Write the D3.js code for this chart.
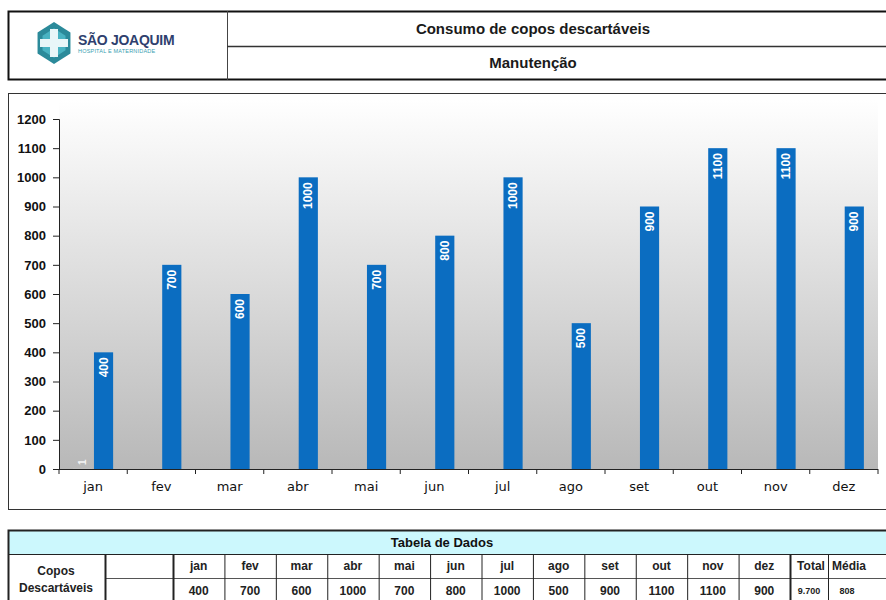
<!DOCTYPE html>
<html lang="pt">
<head>
<meta charset="utf-8">
<script src="https://d3js.org/d3.v7.min.js"></script>
<style>
  body { margin: 0; background: #fff; }
  svg { display: block; font-family: "Liberation Sans", Arial, sans-serif; }
</style>
</head>
<body>
<script>
// dados do grafico
var meses = ["jan", "fev", "mar", "abr", "mai", "jun", "jul", "ago", "set", "out", "nov", "dez"];
var consumo = [400, 700, 600, 1000, 700, 800, 1000, 500, 900, 1100, 1100, 900];
var outros = [1, null, null, null, null, null, null, null, null, null, null, null];
var yTicks = [0, 100, 200, 300, 400, 500, 600, 700, 800, 900, 1000, 1100, 1200];

var W = 886, H = 600;
var svg = d3.select("body").append("svg").attr("width", W).attr("height", H);

// ---- cabecalho ----
var head = svg.append("g");
head.append("rect").attr("x", 8.5).attr("y", 11.5).attr("width", 890).attr("height", 68)
    .attr("fill", "#fff").attr("stroke", "#111").attr("stroke-width", 2);
head.append("line").attr("x1", 227.5).attr("x2", 227.5).attr("y1", 11).attr("y2", 80)
    .attr("stroke", "#444").attr("stroke-width", 1);
head.append("line").attr("x1", 227).attr("x2", 890).attr("y1", 46.5).attr("y2", 46.5)
    .attr("stroke", "#333").attr("stroke-width", 1.5);
head.append("text").attr("x", 533).attr("y", 34).attr("text-anchor", "middle")
    .attr("font-size", 15).attr("font-weight", "bold").attr("fill", "#1a1a1a")
    .text("Consumo de copos descartáveis");
head.append("text").attr("x", 533).attr("y", 68).attr("text-anchor", "middle")
    .attr("font-size", 15).attr("font-weight", "bold").attr("fill", "#1a1a1a")
    .text("Manutenção");

// logo (simplificado)
var logo = head.append("g").attr("transform", "translate(54,43)");
var hex = d3.range(6).map(function(i) {
  var a = Math.PI / 3 * i + Math.PI / 6;
  return [19 * Math.cos(a), 21 * Math.sin(a)];
});
logo.append("polygon").attr("points", hex.join(" ")).attr("fill", "#2b8a9a");
logo.append("polygon").attr("points", hex.map(function(p) { return [p[0] * 0.7, p[1] * 0.7]; }).join(" "))
    .attr("fill", "#49b3c2");
logo.append("path").attr("d", "M-4,-14 h8 v10 h10 v8 h-10 v10 h-8 v-10 h-10 v-8 h10 z")
    .attr("fill", "#e8f6f8");
head.append("text").attr("x", 78).attr("y", 45).attr("font-size", 14).attr("font-weight", "bold")
    .attr("fill", "#2f3f6e").attr("letter-spacing", -0.3).text("SÃO JOAQUIM");
head.append("text").attr("x", 78).attr("y", 53).attr("font-size", 5.5)
    .attr("fill", "#3aa0b0").attr("letter-spacing", 0.2).text("HOSPITAL E MATERNIDADE");

// ---- area do grafico ----
svg.append("rect").attr("x", 8.5).attr("y", 93.5).attr("width", 890).attr("height", 416)
    .attr("fill", "#fff").attr("stroke", "#333").attr("stroke-width", 1);

var margin = { left: 59, right: 878, top: 100, bottom: 469 };
var x = d3.scaleBand().domain(meses).range([margin.left, margin.right]).paddingInner(0).paddingOuter(0);
var y = d3.scaleLinear().domain([0, 1200]).range([margin.bottom, 119]);
var x1 = d3.scaleBand().domain(["outros", "consumo"]).range([0, 40]).paddingInner(0.08);

var defs = svg.append("defs");
var grad = defs.append("linearGradient").attr("id", "fundo").attr("x1", 0).attr("x2", 0).attr("y1", 0).attr("y2", 1);
grad.append("stop").attr("offset", "0%").attr("stop-color", "#ffffff");
grad.append("stop").attr("offset", "100%").attr("stop-color", "#b8b8b8");

svg.append("rect").attr("x", margin.left).attr("y", margin.top)
    .attr("width", margin.right - margin.left).attr("height", margin.bottom - margin.top)
    .attr("fill", "url(#fundo)");

// eixo y
var yAxis = svg.append("g").attr("transform", "translate(" + margin.left + ",0)")
    .call(d3.axisLeft(y).tickValues(yTicks).tickFormat(d3.format("d")).tickSize(6).tickPadding(7));
yAxis.select(".domain").attr("stroke", "#222");
yAxis.selectAll(".tick line").attr("stroke", "#222");
yAxis.selectAll("text").attr("font-size", 13).attr("font-weight", "bold").attr("fill", "#111")
    .attr("font-family", "'Liberation Sans', Arial, sans-serif");

// eixo x
var xAxis = svg.append("g").attr("transform", "translate(0," + margin.bottom + ")")
    .call(d3.axisBottom(x).tickSize(0).tickPadding(13));
xAxis.select(".domain").attr("stroke", "#222").attr("d", "M" + margin.left + ",0.5H" + margin.right);
xAxis.selectAll("text").attr("font-size", 13).attr("fill", "#111")
    .attr("font-family", "'DejaVu Sans', Verdana, sans-serif");
svg.append("g").selectAll("line")
    .data(meses.concat(["fim"]))
    .enter().append("line")
    .attr("x1", function(d, i) { return margin.left + i * x.step(); })
    .attr("x2", function(d, i) { return margin.left + i * x.step(); })
    .attr("y1", margin.bottom).attr("y2", margin.bottom + 5)
    .attr("stroke", "#222");

// barras
var grupos = svg.append("g").selectAll("g")
    .data(meses).enter().append("g")
    .attr("transform", function(d) { return "translate(" + (x(d) + x.bandwidth() / 2 - 20) + ",0)"; });

grupos.append("rect")
    .attr("x", x1("consumo"))
    .attr("width", x1.bandwidth())
    .attr("y", function(d, i) { return y(consumo[i]); })
    .attr("height", function(d, i) { return y(0) - y(consumo[i]); })
    .attr("fill", "#0b6dc1");

grupos.append("text")
    .attr("transform", function(d, i) {
      return "translate(" + (x1("consumo") + x1.bandwidth() / 2 + 4) + "," + (y(consumo[i]) + 5) + ") rotate(-90)";
    })
    .attr("text-anchor", "end")
    .attr("font-size", 12).attr("font-weight", "bold").attr("fill", "#fff")
    .text(function(d, i) { return consumo[i]; });

grupos.filter(function(d, i) { return outros[i] != null; })
    .append("rect")
    .attr("x", x1("outros"))
    .attr("width", x1.bandwidth())
    .attr("y", function(d) { return y(outros[meses.indexOf(d)]); })
    .attr("height", function(d) { return y(0) - y(outros[meses.indexOf(d)]); })
    .attr("fill", "#d0d0d0");
grupos.filter(function(d, i) { return outros[i] != null; })
    .append("text")
    .attr("transform", "translate(" + (x1("outros") + x1.bandwidth() / 2 + 3) + "," + (y(0) - 4) + ") rotate(-90)")
    .attr("text-anchor", "start")
    .attr("font-size", 10).attr("font-weight", "bold").attr("fill", "#f4f4f4")
    .text(function(d) { return outros[meses.indexOf(d)]; });

// ---- tabela ----
var total = d3.sum(consumo);
var media = Math.round(total / consumo.length);
var fmt = d3.formatLocale({ decimal: ",", thousands: ".", grouping: [3], currency: ["R$", ""] }).format(",");

var tab = svg.append("g");
var tTop = 530, r1 = 554, r2 = 578, r3 = 602;
tab.append("rect").attr("x", 8.5).attr("y", tTop).attr("width", 890).attr("height", r1 - tTop)
    .attr("fill", "#ccf8fd");
tab.append("text").attr("x", 442).attr("y", 547).attr("text-anchor", "middle")
    .attr("font-size", 13).attr("font-weight", "bold").attr("fill", "#111").text("Tabela de Dados");

var colX = d3.scaleBand().domain(meses).range([173, 790]);
var extra = [{ nome: "Total", x0: 790, x1: 828, v: fmt(total) }, { nome: "Média", x0: 828, x1: 870, v: fmt(media) }];

// grades
var linhas = tab.append("g").attr("stroke", "#222").attr("fill", "none");
linhas.append("rect").attr("x", 8.5).attr("y", tTop + 0.5).attr("width", 890).attr("height", 80).attr("stroke-width", 2);
linhas.append("line").attr("x1", 8).attr("x2", 890).attr("y1", r1 + 0.5).attr("y2", r1 + 0.5);
linhas.append("line").attr("x1", 105).attr("x2", 890).attr("y1", r2 + 0.5).attr("y2", r2 + 0.5).attr("stroke", "#555");
[105, 173].concat(meses.slice(1).map(function(m) { return colX(m); }), [790, 828]).forEach(function(cx) {
  linhas.append("line").attr("x1", cx + 0.5).attr("x2", cx + 0.5).attr("y1", r1).attr("y2", r3)
      .attr("stroke-width", cx === 105 || cx === 173 || cx === 790 ? 2 : 1);
});

tab.append("text").attr("x", 56).attr("y", 575).attr("text-anchor", "middle")
    .attr("font-size", 12).attr("font-weight", "bold").attr("fill", "#222").text("Copos");
tab.append("text").attr("x", 56).attr("y", 592).attr("text-anchor", "middle")
    .attr("font-size", 12).attr("font-weight", "bold").attr("fill", "#222").text("Descartáveis");

tab.selectAll(".mes").data(meses).enter().append("text")
    .attr("x", function(d) { return colX(d) + colX.bandwidth() / 2; })
    .attr("y", 570).attr("text-anchor", "middle")
    .attr("font-size", 12).attr("font-weight", "bold").attr("fill", "#222")
    .text(function(d) { return d; });
tab.selectAll(".val").data(consumo).enter().append("text")
    .attr("x", function(d, i) { return colX(meses[i]) + colX.bandwidth() / 2; })
    .attr("y", 595).attr("text-anchor", "middle")
    .attr("font-size", 12).attr("font-weight", "bold").attr("fill", "#222")
    .text(function(d) { return d; });
extra.forEach(function(e) {
  tab.append("text").attr("x", e.nome === "Média" ? 832 : (e.x0 + e.x1) / 2 + 2).attr("y", 570)
      .attr("text-anchor", e.nome === "Média" ? "start" : "middle")
      .attr("font-size", 12).attr("font-weight", "bold").attr("fill", "#222").text(e.nome);
  tab.append("text").attr("x", e.nome === "Média" ? 847 : (e.x0 + e.x1) / 2).attr("y", 594).attr("text-anchor", "middle")
      .attr("font-size", 9).attr("font-weight", "bold").attr("fill", "#222").text(e.v);
});
</script>
</body>
</html>
